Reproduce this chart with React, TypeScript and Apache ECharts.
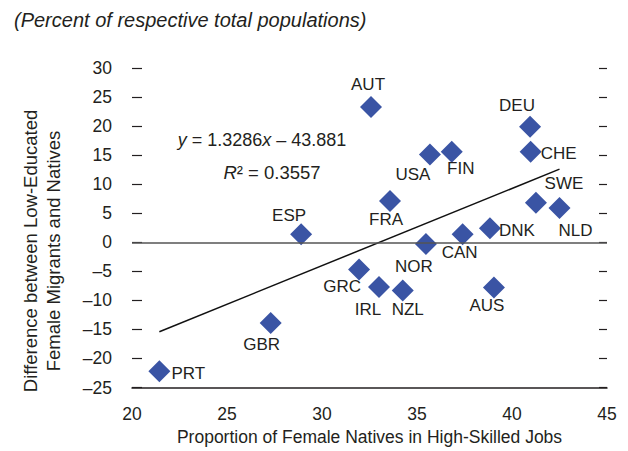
import React, { useEffect, useRef } from "react";
import * as echarts from "echarts";

const COUNTRIES = ["PRT", "GBR", "ESP", "GRC", "IRL", "NZL", "AUS", "NOR", "CAN", "DNK", "FRA", "USA", "FIN", "AUT", "DEU", "CHE", "SWE", "NLD"];
const X_VALUES = [21.44, 27.3, 28.9, 31.95, 33.0, 34.25, 39.05, 35.47, 37.4, 38.84, 33.58, 35.68, 36.83, 32.58, 40.95, 40.98, 41.26, 42.5];
const Y_VALUES = [-22.2, -13.9, 1.4, -4.7, -7.7, -8.3, -7.8, -0.3, 1.4, 2.4, 7.1, 15.1, 15.6, 23.3, 19.9, 15.6, 6.8, 5.9];
const TREND_SLOPE = 1.3286;
const TREND_INTERCEPT = -43.881;
const R_SQUARED = 0.3557;
const X_TICKS = [20, 25, 30, 35, 40, 45];
const Y_TICKS = [-25, -20, -15, -10, -5, 0, 5, 10, 15, 20, 25, 30];

const SUBTITLE = "(Percent of respective total populations)";
const X_TITLE = "Proportion of Female Natives in High-Skilled Jobs";
const Y_TITLE = ["Difference between Low-Educated", "Female Migrants and Natives"];

// label offsets (px) relative to the marker centre
const LABEL_OFFSET: Record<string, [number, number]> = {
  PRT: [29, 2], GBR: [-9, 21], ESP: [-12, -19], GRC: [-17, 17], IRL: [-11, 22],
  NZL: [5, 19], AUS: [-7, 18], NOR: [-12, 22], CAN: [-3, 18], DNK: [27, 2],
  FRA: [-4, 18], USA: [-17, 20], FIN: [9, 17], AUT: [-3, -22], DEU: [-13, -21],
  CHE: [28, 2], SWE: [28, -19], NLD: [16, 23],
};

const FONT = "'Liberation Sans', Arial, sans-serif";
const TEXT = "#231f20";
const BLUE = "#3a54a4";

export default function App() {
  const ref = useRef<HTMLDivElement>(null);
  useEffect(() => {
    if (!ref.current) return;
    const chart = echarts.init(ref.current, undefined, { renderer: "svg" });
    const xMin = Math.min(...X_VALUES);
    const xMax = Math.max(...X_VALUES);
    const fmt = (v: number) => (v < 0 ? "\u2013" + Math.abs(v) : String(v));
    chart.setOption({
      animation: false,
      textStyle: { fontFamily: FONT, color: TEXT },
      title: {
        text: SUBTITLE,
        left: 9,
        top: 5,
        textStyle: { fontFamily: FONT, fontStyle: "italic", fontWeight: "normal", fontSize: 20, color: TEXT },
      },
      grid: { left: 132, right: 21, top: 68, bottom: 63.5 },
      xAxis: {
        type: "value",
        min: X_TICKS[0],
        max: X_TICKS[X_TICKS.length - 1],
        interval: 5,
        name: X_TITLE,
        nameLocation: "middle",
        nameGap: 40,
        nameTextStyle: { fontFamily: FONT, fontSize: 17.5, color: TEXT },
        axisLine: { show: true, onZero: false, lineStyle: { color: TEXT, width: 1.5 } },
        axisTick: { show: false },
        axisLabel: { fontFamily: FONT, fontSize: 17.5, color: TEXT, margin: 17 },
        splitLine: { show: false },
      },
      yAxis: [
        {
          type: "value",
          min: Y_TICKS[0],
          max: Y_TICKS[Y_TICKS.length - 1],
          interval: 5,
          axisLine: { show: false },
          axisTick: { show: true, inside: true, length: 10, lineStyle: { color: TEXT, width: 1.2 } },
          axisLabel: { fontFamily: FONT, fontSize: 17.5, color: TEXT, margin: 20, formatter: fmt },
          splitLine: { show: false },
        },
        {
          type: "value",
          position: "right",
          min: Y_TICKS[0],
          max: Y_TICKS[Y_TICKS.length - 1],
          interval: 5,
          axisLine: { show: false },
          axisTick: { show: true, inside: true, length: 8, lineStyle: { color: TEXT, width: 1.2 } },
          axisLabel: { show: false },
          splitLine: { show: false },
        },
      ],
      graphic: [
        {
          type: "text",
          x: 42,
          y: 251,
          rotation: Math.PI / 2,
          style: {
            text: Y_TITLE.join("\n"),
            font: `18.5px ${FONT}`,
            fill: TEXT,
            align: "center",
            verticalAlign: "middle",
            lineHeight: 23,
          },
        },
        {
          type: "text",
          x: 262,
          y: 140,
          style: {
            text: `{i|y} = ${TREND_SLOPE}{i|x} \u2013 ${Math.abs(TREND_INTERCEPT)}`,
            font: `18px ${FONT}`,
            fill: TEXT,
            align: "center",
            verticalAlign: "middle",
            rich: { i: { fontStyle: "italic", fontFamily: FONT, fontSize: 18, fill: TEXT } },
          },
        },
        {
          type: "text",
          x: 272,
          y: 172,
          style: {
            text: `{i|R}\u00b2 = ${R_SQUARED}`,
            font: `18.5px ${FONT}`,
            fill: TEXT,
            align: "center",
            verticalAlign: "middle",
            rich: { i: { fontStyle: "italic", fontFamily: FONT, fontSize: 18.5, fill: TEXT } },
          },
        },
      ],
      series: [
        {
          type: "line",
          data: [
            [xMin, TREND_SLOPE * xMin + TREND_INTERCEPT],
            [xMax, TREND_SLOPE * xMax + TREND_INTERCEPT],
          ],
          symbol: "none",
          lineStyle: { color: "#111", width: 1.5 },
          silent: true,
          z: 1,
        },
        {
          type: "scatter",
          symbol: "diamond",
          symbolSize: 22,
          itemStyle: { color: BLUE, opacity: 1 },
          z: 3,
          data: COUNTRIES.map((c, i) => ({
            value: [X_VALUES[i], Y_VALUES[i]],
            name: c,
            label: { offset: LABEL_OFFSET[c] },
          })),
          label: {
            show: true,
            position: "inside",
            formatter: (p: any) => p.name,
            fontFamily: FONT,
            fontSize: 17,
            color: TEXT,
          },
          markLine: {
            silent: true,
            symbol: "none",
            label: { show: false },
            lineStyle: { color: "#555", width: 1.5, type: "solid" },
            data: [{ yAxis: 0 }],
          },
        },
      ],
    });
    return () => chart.dispose();
  }, []);
  return <div ref={ref} style={{ width: 628, height: 451, position: "absolute", left: 0, top: 0 }} />;
}
